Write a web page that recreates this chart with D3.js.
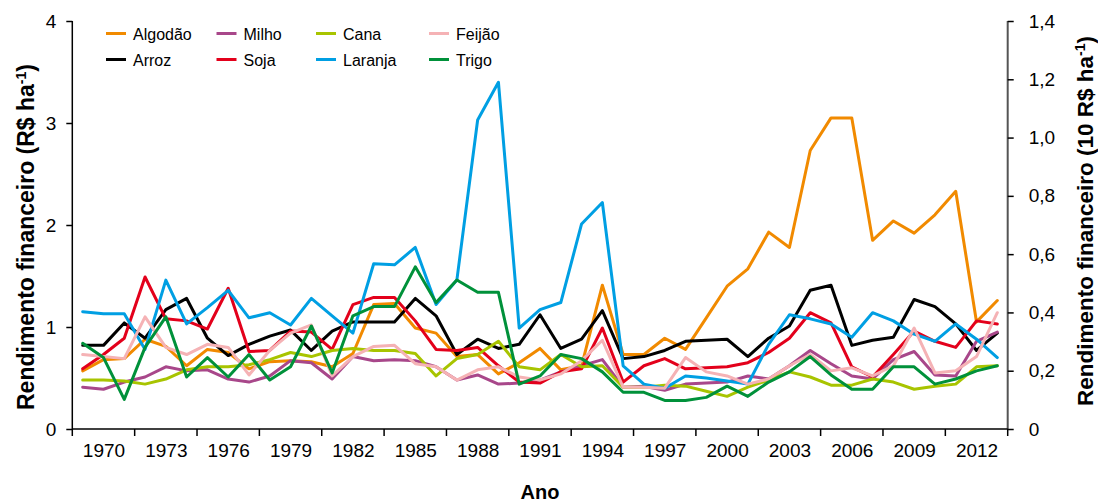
<!DOCTYPE html>
<html>
<head>
<meta charset="utf-8">
<script src="https://cdn.jsdelivr.net/npm/d3@7"></script>
<style>
  body { margin: 0; background: #fff; }
  text { font-family: "Liberation Sans", Arial, sans-serif; }
</style>
</head>
<body>
<div id="vis"></div>
<script>
var years = d3.range(1969, 2014);
var labelYears = [1970, 1973, 1976, 1979, 1982, 1985, 1988, 1991, 1994, 1997, 2000, 2003, 2006, 2009, 2012];
var leftTicks = [0, 1, 2, 3, 4];
var rightTicks = [0, 0.2, 0.4, 0.6, 0.8, 1.0, 1.2, 1.4];

var seriesNames = ["Algodão", "Arroz", "Milho", "Soja", "Cana", "Laranja", "Feijão", "Trigo"];
var seriesColors = ["#f18a00", "#000000", "#a8478a", "#e3001b", "#a8c400", "#009fe3", "#f5b2b5", "#00913a"];

var algodao = [0.57, 0.68, 0.69, 0.88, 0.81, 0.62, 0.78, 0.75, 0.59, 0.66, 0.67, 0.66, 0.61, 0.74, 1.22,
               1.23, 0.99, 0.94, 0.71, 0.73, 0.54, 0.65, 0.79, 0.58, 0.62, 1.41, 0.73, 0.73, 0.89, 0.78,
               1.09, 1.40, 1.57, 1.93, 1.78, 2.73, 3.05, 3.05, 1.85, 2.04, 1.92, 2.10, 2.33, 1.05, 1.26];
var arroz   = [0.82, 0.82, 1.04, 0.89, 1.17, 1.28, 0.89, 0.72, 0.83, 0.91, 0.97, 0.77, 0.96, 1.05, 1.05,
               1.05, 1.28, 1.11, 0.73, 0.88, 0.79, 0.83, 1.12, 0.79, 0.88, 1.16, 0.69, 0.71, 0.77, 0.86,
               0.87, 0.88, 0.71, 0.89, 1.01, 1.36, 1.41, 0.82, 0.87, 0.90, 1.27, 1.20, 1.03, 0.77, 0.94];
var milho   = [0.41, 0.39, 0.46, 0.51, 0.61, 0.57, 0.58, 0.49, 0.46, 0.52, 0.67, 0.65, 0.49, 0.71, 0.67,
               0.68, 0.67, 0.61, 0.48, 0.53, 0.44, 0.45, 0.48, 0.56, 0.62, 0.68, 0.41, 0.42, 0.38, 0.44,
               0.45, 0.46, 0.52, 0.49, 0.62, 0.77, 0.64, 0.52, 0.49, 0.68, 0.76, 0.53, 0.52, 0.86, 0.95];
var soja    = [0.59, 0.73, 0.89, 1.49, 1.08, 1.06, 0.98, 1.38, 0.76, 0.77, 0.96, 0.95, 0.78, 1.22, 1.29,
               1.29, 1.06, 0.78, 0.77, 0.80, 0.62, 0.46, 0.45, 0.56, 0.59, 0.99, 0.46, 0.62, 0.69, 0.59,
               0.60, 0.61, 0.65, 0.75, 0.89, 1.14, 1.04, 0.61, 0.51, 0.73, 0.96, 0.86, 0.80, 1.06, 1.03];
var cana    = [0.48, 0.48, 0.47, 0.44, 0.49, 0.58, 0.61, 0.61, 0.63, 0.68, 0.75, 0.71, 0.77, 0.79, 0.77,
               0.77, 0.74, 0.52, 0.69, 0.73, 0.86, 0.61, 0.58, 0.73, 0.61, 0.62, 0.41, 0.41, 0.43, 0.42,
               0.37, 0.32, 0.41, 0.48, 0.56, 0.51, 0.43, 0.43, 0.49, 0.46, 0.39, 0.42, 0.44, 0.61, 0.62];
var laranja = [1.15, 1.13, 1.13, 0.78, 1.46, 1.03, 1.19, 1.36, 1.09, 1.14, 1.02, 1.28, 1.11, 0.94, 1.62,
               1.61, 1.78, 1.22, 1.46, 3.03, 3.40, 0.99, 1.17, 1.24, 2.01, 2.22, 0.62, 0.44, 0.40, 0.52,
               0.50, 0.47, 0.44, 0.83, 1.12, 1.08, 1.03, 0.90, 1.14, 1.06, 0.93, 0.86, 1.03, 0.88, 0.70];
var feijao  = [0.73, 0.71, 0.69, 1.10, 0.80, 0.73, 0.83, 0.80, 0.53, 0.77, 0.94, 1.02, 0.52, 0.71, 0.81,
               0.82, 0.64, 0.61, 0.48, 0.58, 0.61, 0.51, 0.48, 0.54, 0.67, 0.87, 0.41, 0.41, 0.40, 0.70,
               0.56, 0.52, 0.44, 0.49, 0.62, 0.73, 0.57, 0.60, 0.52, 0.62, 0.99, 0.55, 0.57, 0.71, 1.14];
var trigo   = [0.84, 0.70, 0.29, 0.80, 1.10, 0.51, 0.70, 0.51, 0.73, 0.48, 0.61, 1.01, 0.55, 1.11, 1.20,
               1.20, 1.59, 1.24, 1.46, 1.34, 1.34, 0.44, 0.52, 0.73, 0.69, 0.56, 0.36, 0.36, 0.28, 0.28,
               0.31, 0.42, 0.32, 0.46, 0.56, 0.71, 0.53, 0.39, 0.39, 0.61, 0.61, 0.44, 0.49, 0.57, 0.62];

var seriesValues = [algodao, arroz, milho, soja, cana, laranja, feijao, trigo];

var width = 1098, height = 504;
var plotLeft = 72.3, plotRight = 1007.7, plotTop = 21, plotBottom = 429;

var svg = d3.select("#vis").append("svg")
    .attr("width", width)
    .attr("height", height)
    .style("display", "block");

svg.append("rect").attr("width", width).attr("height", height).attr("fill", "#fff");

// scales
var x = d3.scalePoint()
    .domain(years)
    .range([plotLeft, plotRight])
    .padding(0.5);
var step = x.step();

var y = d3.scaleLinear().domain([0, 4]).range([plotBottom, plotTop]);
var y2 = d3.scaleLinear().domain([0, 1.4]).range([plotBottom, plotTop]);

////////// lines //////////

var line = d3.line()
    .x(function(d, i) { return x(years[i]); })
    .y(function(d) { return y(d); });

svg.append("g").attr("class", "lines")
  .selectAll("path")
    .data(seriesValues)
    .enter()
    .append("path")
    .attr("d", line)
    .attr("fill", "none")
    .attr("stroke", function(d, i) { return seriesColors[i]; })
    .attr("stroke-width", 3)
    .attr("stroke-linejoin", "round")
    .attr("stroke-linecap", "round");

////////// axes //////////

// left axis
var yAxis = svg.append("g")
    .attr("transform", "translate(" + plotLeft + ",0)")
    .call(d3.axisLeft(y).tickValues(leftTicks).tickSize(6).tickPadding(10).tickFormat(d3.format("d")));
yAxis.select(".domain").attr("stroke", "#000").attr("stroke-width", 1.5).attr("d", "M0," + plotTop + "V" + plotBottom);
yAxis.selectAll(".tick line").attr("stroke-width", 1.5);
yAxis.selectAll("text").style("font-size", "19px").attr("fill", "#000");

// right axis
var y2Axis = svg.append("g")
    .attr("transform", "translate(" + plotRight + ",0)")
    .call(d3.axisRight(y2).tickValues(rightTicks).tickSize(6).tickPadding(15)
      .tickFormat(function(d) { return d === 0 ? "0" : d.toFixed(1).replace(".", ","); }));
y2Axis.select(".domain").attr("stroke", "#555").attr("stroke-width", 2).attr("d", "M0," + plotTop + "V" + plotBottom);
y2Axis.selectAll(".tick line").attr("stroke-width", 1.5);
y2Axis.selectAll("text").style("font-size", "19px").attr("fill", "#000");

// bottom axis: labels at group centres, tick marks at group boundaries
var xAxis = svg.append("g")
    .attr("transform", "translate(0," + plotBottom + ")")
    .call(d3.axisBottom(x).tickValues(labelYears).tickSize(0).tickPadding(15));
xAxis.select(".domain").remove();
xAxis.selectAll("text").style("font-size", "19px").attr("fill", "#000");

var boundaries = d3.range(0, years.length + 1, 3);
svg.append("g")
  .selectAll("line")
    .data(boundaries)
    .enter()
    .append("line")
    .attr("x1", function(d) { return plotLeft + d * step; })
    .attr("x2", function(d) { return plotLeft + d * step; })
    .attr("y1", plotBottom)
    .attr("y2", plotBottom + 7)
    .attr("stroke", "#000")
    .attr("stroke-width", 1.5);

svg.append("line")
    .attr("x1", plotLeft).attr("x2", plotRight)
    .attr("y1", plotBottom).attr("y2", plotBottom)
    .attr("stroke", "#000").attr("stroke-width", 1.5);

////////// titles //////////

var leftTitle = svg.append("text")
    .attr("transform", "translate(34," + 237 + ") rotate(-90)")
    .attr("text-anchor", "middle")
    .style("font-size", "23px")
    .style("font-weight", "bold");
leftTitle.append("tspan").text("Rendimento financeiro (R$ ha");
leftTitle.append("tspan").attr("dy", -8).style("font-size", "14px").text("-1");
leftTitle.append("tspan").attr("dy", 8).text(")");

var rightTitle = svg.append("text")
    .attr("transform", "translate(1093," + 221 + ") rotate(-90)")
    .attr("text-anchor", "middle")
    .style("font-size", "22.5px")
    .style("font-weight", "bold");
rightTitle.append("tspan").text("Rendimento financeiro (10 R$ ha");
rightTitle.append("tspan").attr("dy", -8).style("font-size", "14px").text("-1");
rightTitle.append("tspan").attr("dy", 8).text(")");

svg.append("text")
    .attr("x", (plotLeft + plotRight) / 2)
    .attr("y", 499)
    .attr("text-anchor", "middle")
    .style("font-size", "20px")
    .style("font-weight", "bold")
    .text("Ano");

////////// legend //////////

var legendCols = [106, 216.5, 316, 429];
var legendRows = [33.5, 59.5];

var legend = svg.append("g").attr("class", "legend")
  .selectAll("g")
    .data(seriesNames)
    .enter()
    .append("g")
    .attr("transform", function(d, i) {
      return "translate(" + legendCols[Math.floor(i / 2)] + "," + legendRows[i % 2] + ")";
    });

legend.append("line")
    .attr("x1", 0).attr("x2", 20)
    .attr("stroke", function(d, i) { return seriesColors[i]; })
    .attr("stroke-width", 3);

legend.append("text")
    .attr("x", 27)
    .attr("y", 6)
    .style("font-size", "16px")
    .text(function(d) { return d; });
</script>
</body>
</html>
